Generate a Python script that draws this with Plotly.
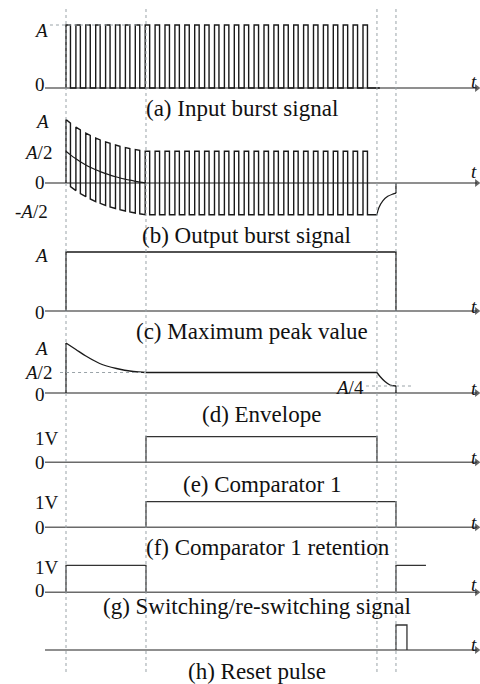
import plotly.graph_objects as go

W, H = 480, 684

# ---------------- data (time unit = one burst period) ----------------
event_times = [0.0, 8.08, 31.41, 33.33]      # burst start, settled, envelope drop, reset
T0, T_SET, T_DROP, T_RST = event_times
burst_pulses = 31
burst_duty = 0.45
input_end = 31.7
g_second_end = 36.36
reset_end = 34.44
axis_t = [-2.12, 41.5]

# (b) DC offset (units of A) of the output at each pulse edge while settling
b_edge_offset = [0.50, 0.443, 0.381, 0.335, 0.285, 0.248, 0.208, 0.179, 0.147,
                 0.124, 0.098, 0.079, 0.059, 0.044, 0.027, 0.015, 0.002, 0.0]
# (b) recovery after the burst
b_rec_t = [31.41, 31.6, 32.0, 32.5, 33.0, 33.33]
b_rec_v = [-0.50, -0.39, -0.28, -0.21, -0.175, -0.16]

# (d) envelope (levels drawn as in the figure: A, A/2, A/4)
d_levels = [1.0, 0.41, 0.14]
d_decay_t = [0.0, 1.0, 2.0, 3.4, 5.1, 6.8, 8.08]
d_decay_v = [1.0, 0.87, 0.74, 0.59, 0.49, 0.43, 0.41]
d_drop_t = [31.41, 31.72, 32.22, 32.73, 33.33]
d_drop_v = [0.41, 0.33, 0.23, 0.16, 0.14]

captions = ["(a) Input burst signal", "(b) Output burst signal", "(c) Maximum peak value",
            "(d) Envelope", "(e) Comparator 1", "(f) Comparator 1 retention",
            "(g) Switching/re-switching signal", "(h) Reset pulse"]
tick_labels = [
    ["<i>A</i>", "0"],
    ["<i>A</i>", "<i>A</i>/2", "0", "-<i>A</i>/2"],
    ["<i>A</i>", "0"],
    ["<i>A</i>", "<i>A</i>/2", "0"],
    ["1V", "0"],
    ["1V", "0"],
    ["1V", "0"],
    [],
]

# ---------------- layout geometry ----------------
PX0, PX_PER_T = 66.0, 9.9
x_range = [(0 - PX0) / PX_PER_T, (W - PX0) / PX_PER_T]
# (axis id, baseline pixel, pixels per unit)
panels = [("y", 88, 63), ("y2", 183, 63.5), ("y3", 311, 59), ("y4", 393, 50),
          ("y5", 462.3, 25.6), ("y6", 527.3, 25.6), ("y7", 592.3, 27), ("y8", 650, 25)]
caption_pos = [(242, 109), (247, 235), (252, 331), (261, 414), (262, 484),
               (268, 547), (257, 606), (257, 671)]
# tick label (left px, center px)
tick_pos = [
    [(32, 31), (33, 85)],
    [(33, 121.5), (22, 152), (33, 182.3), (13, 211.5)],
    [(32, 255.3), (33, 312)],
    [(32, 349), (22, 373), (33, 394.5)],
    [(33, 438), (33, 462)],
    [(33, 502), (33, 527.5)],
    [(33, 567), (33, 590)],
    [],
]
t_label_y = [81, 171, 306, 389, 457, 522, 584, 644]

SIG = "#1a1a1a"
AX = "#6a6a6a"
GUIDE = "#9aa3a8"
FONT = "Liberation Serif"

fig = go.Figure()


def line(x, y, yaxis, color=SIG, width=1.3, shape="linear", dash=None):
    fig.add_trace(go.Scatter(x=x, y=y, yaxis=yaxis, mode="lines",
                             line=dict(color=color, width=width, shape=shape, dash=dash),
                             hoverinfo="skip", showlegend=False))


# baselines with arrows
for yid, _, _ in panels:
    fig.add_trace(go.Scatter(x=axis_t, y=[0, 0], yaxis=yid, mode="lines+markers",
                             line=dict(color=AX, width=1.5),
                             marker=dict(symbol="triangle-right", size=[0, 7], color="#222",
                                         line=dict(width=0)),
                             hoverinfo="skip", showlegend=False))

# (a) input burst
ax_, ay_ = [], []
for k in range(burst_pulses):
    ax_ += [k, k, k + burst_duty, k + burst_duty]
    ay_ += [0, 1, 1, 0]
ax_.append(input_end)
ay_.append(0)
line(ax_, ay_, "y", width=1.4)
line([axis_t[0] + 0.5, T_SET], [1, 1], "y", color=GUIDE, width=1, dash="dot")


# (b) output burst
def off(e):
    return b_edge_offset[e] if e < len(b_edge_offset) else 0.0


bx, by = [], []
for k in range(burst_pulses):
    r, f = k, k + burst_duty
    o_r, o_f = off(2 * k), off(2 * k + 1)
    bx += [r, r, f, f]
    by += [o_r - 0.5, o_r + 0.5, o_f + 0.5, o_f - 0.5]
bx.append(T_DROP)
by.append(-0.5)
line(bx, by, "y2", width=1.4)
cx = [k + (burst_duty if e % 2 else 0) for e, k in
      ((e, e // 2) for e in range(len(b_edge_offset) - 1))]
cy = b_edge_offset[:len(cx)]
line(cx, cy, "y2", width=1.2, shape="spline")
line(b_rec_t, b_rec_v, "y2", width=1.2, shape="spline")
line([T_RST, T_RST], [b_rec_v[-1], 0], "y2", width=1.3)

# (c) maximum peak value
line([T0, T0, T_RST, T_RST], [0, 1, 1, 0], "y3")

# (d) envelope
line([T0, T0], [0, d_decay_v[0]], "y4")
line(d_decay_t, d_decay_v, "y4", shape="spline")
line([T_SET, T_DROP], [d_levels[1], d_levels[1]], "y4", width=1.5)
line(d_drop_t, d_drop_v, "y4", shape="spline")
line([T_RST, T_RST], [d_drop_v[-1], 0], "y4")
line([-0.6, T_SET], [d_levels[1], d_levels[1]], "y4", color=GUIDE, width=1, dash="dot")
line([30.3, 35.05], [d_levels[2], d_levels[2]], "y4", color=GUIDE, width=1, dash="dot")

# (e) comparator 1
line([T_SET, T_SET, T_DROP, T_DROP], [0, 1, 1, 0], "y5", color="#333")
# (f) comparator 1 retention
line([T_SET, T_SET, T_RST, T_RST], [0, 1, 1, 0], "y6", color="#333")
# (g) switching / re-switching
line([T0, T0, T_SET, T_SET], [0, 1, 1, 0], "y7", color="#333")
line([T_RST, T_RST, g_second_end], [0, 1, 1], "y7", color="#333")
# (h) reset pulse
line([T_RST, T_RST, reset_end, reset_end], [0, 1, 1, 0], "y8", color="#333")

# vertical dotted event lines
shapes = []
for t in event_times:
    shapes.append(dict(type="line", xref="x", yref="paper", x0=t, x1=t,
                       y0=1 - 672 / H, y1=1 - 6 / H,
                       line=dict(color=GUIDE, width=1, dash="dot")))

annotations = []


def ann(text, xpx, ypx, size, xanchor="center", italic=False):
    annotations.append(dict(text=text, xref="paper", yref="paper", x=xpx / W, y=1 - ypx / H,
                            xanchor=xanchor, yanchor="middle", showarrow=False,
                            font=dict(family=FONT, size=size, color="#111",
                                      style="italic" if italic else "normal")))


for cap, (cxp, cyp) in zip(captions, caption_pos):
    ann(cap, cxp, cyp, 23)
for labels, poss in zip(tick_labels, tick_pos):
    for lab, (lx, ly) in zip(labels, poss):
        ann(lab, lx, ly, 19, xanchor="left")
ann("<i>A</i>/4", 366, 387.5, 19, xanchor="right")
for ty in t_label_y:
    ann("t", 474, ty, 19, italic=True)

layout = dict(width=W, height=H, margin=dict(l=0, r=0, t=0, b=0),
              paper_bgcolor="white", plot_bgcolor="white",
              xaxis=dict(range=x_range, visible=False, fixedrange=True),
              shapes=shapes, annotations=annotations, showlegend=False)
for i, (yid, base, scale) in enumerate(panels):
    key = "yaxis" if yid == "y" else "yaxis" + yid[1:]
    rng = [(base - H) / scale, base / scale]
    ax = dict(range=rng, visible=False, domain=[0, 1], fixedrange=True)
    if yid != "y":
        ax["overlaying"] = "y"
    layout[key] = ax
fig.update_layout(**layout)
fig.write_html("out.html", config={"displayModeBar": False},
               post_script="document.body.style.margin='0';document.body.style.overflow='hidden';")
